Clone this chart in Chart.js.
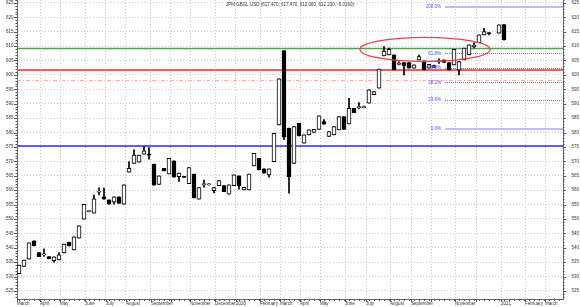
<!DOCTYPE html>
<html lang="en">
<head>
<meta charset="utf-8">
<title>JPM GBGL USD</title>
<style>
    html, body { margin: 0; padding: 0; background: #ffffff; }
    #chart { display: block; }
</style>
</head>
<body>
<canvas id="chart" width="580" height="307"></canvas>
<script src="https://cdn.jsdelivr.net/npm/chart.js@4/dist/chart.umd.min.js"></script>
<script>
// Weekly bars, week 0 = first week of March 2019 (week 95 has no bar)
const weeks = [
    0, 1, 2, 3, 4, 5, 6, 7, 8, 9, 10, 11, 12, 13, 14, 15, 16, 17, 18, 19,
    20, 21, 22, 23, 24, 25, 26, 27, 28, 29, 30, 31, 32, 33, 34, 35, 36, 37, 38, 39,
    40, 41, 42, 43, 44, 45, 46, 47, 48, 49, 50, 51, 52, 53, 54, 55, 56, 57, 58, 59,
    60, 61, 62, 63, 64, 65, 66, 67, 68, 69, 70, 71, 72, 73, 74, 75, 76, 77, 78, 79,
    80, 81, 82, 83, 84, 85, 86, 87, 88, 89, 90, 91, 92, 93, 94, 96, 97
];
const opens = [
    531, 533.5, 536, 542.4, 538.3, 537.5, 536.9, 535.5, 535.8, 538.2,
    542, 539.2, 543.3, 549.9, 552.5, 552, 559.3, 557.7, 556.6, 555.8,
    557.7, 555.1, 566.2, 569.3, 569.7, 572.5, 572.5, 569, 562, 567.6,
    565.6, 570.2, 564.7, 564.8, 562.2, 565.6, 556.9, 561.9, 561.8, 559.8,
    561.5, 561.6, 558.6, 561.5, 565, 560.1, 560.1, 568.4, 571, 567.4,
    565.3, 569.9, 582.6, 608.4, 581.5, 569.3, 583.2, 576.3, 579.2, 580,
    581.1, 583.8, 578.6, 579.2, 580.9, 585.5, 583, 588.4, 588.6, 588.6,
    590.2, 593.1, 595.4, 606.6, 606.9, 607, 603.6, 604.3, 604.3, 602.3,
    605.2, 604.9, 602.3, 602.6, 604.6, 605.2, 604.3, 603.5, 601.7, 605.2,
    606.9, 609.8, 611.2, 613.9, 614.7, 614.5, 617.47
];
const highs = [
    534, 535.7, 541.7, 542.4, 538.3, 539.6, 536.9, 536.8, 538.3, 541.3,
    542, 543.8, 547.6, 555.1, 552.9, 558.3, 560.8, 560.7, 556.6, 557.7,
    557.7, 561.8, 569.9, 574, 572.2, 575.1, 574.8, 569, 565, 567.6,
    571, 570.2, 565.9, 564.8, 567.8, 565.6, 560.9, 563.5, 562.3, 560.9,
    563.3, 561.6, 561.8, 565.3, 565, 561, 565.6, 572.8, 571, 567.4,
    567.4, 579.7, 598.6, 608.4, 581.5, 582.1, 583.2, 579.2, 580.9, 581.1,
    585.8, 584.5, 580.3, 582.1, 585.5, 585.5, 591.9, 588.4, 590.4, 589.2,
    594.8, 594.2, 602, 609.8, 609.3, 607, 604.5, 604.3, 604.3, 603.5,
    606.9, 604.9, 603.7, 603.4, 605.6, 605.2, 604.3, 608.9, 604.6, 609.3,
    610.4, 611.1, 613.9, 616.2, 614.7, 617.4, 617.47
];
const lows = [
    531, 533.5, 536, 540.6, 536.9, 537, 536.1, 535, 535.8, 538.2,
    540.6, 539.2, 543.3, 549.9, 552.4, 552, 558.3, 556.9, 555.1, 555.1,
    555.4, 555.1, 566.2, 569.3, 569.7, 572.5, 570.7, 561.7, 562, 566.7,
    565.6, 564.5, 563, 564.4, 562.2, 557.3, 556.9, 561, 561.7, 559,
    561.5, 559.5, 558.6, 561.5, 560.3, 560.1, 560.1, 568.4, 567, 565.9,
    564.5, 569.9, 582.6, 577.5, 558.9, 569.3, 578.8, 576.3, 579.2, 580,
    581.1, 582.9, 578.6, 579.2, 580.9, 581.1, 583, 586.9, 588.3, 588.5,
    590.2, 593.1, 595.4, 606.6, 606.9, 601.7, 603.5, 600, 602.3, 602.3,
    605.2, 601.7, 602.3, 602.6, 604, 604.3, 601.7, 603.5, 600, 605.2,
    606.9, 609.4, 611.2, 613.9, 613.9, 614.5, 612.06
];
const closes = [
    534, 535.7, 541.7, 540.6, 536.9, 537.9, 536.1, 536.8, 537.5, 541.3,
    540.6, 543.8, 547.6, 555.1, 552.9, 557, 559.6, 556.9, 555.1, 557.7,
    555.4, 561.8, 567.6, 572.2, 572.2, 573.6, 572.1, 561.7, 565, 566.7,
    571, 564.5, 565.9, 564.4, 567.8, 557.3, 560.9, 562.3, 562.2, 560.9,
    563.3, 559.5, 561.8, 565.3, 561.5, 561, 565.6, 572.8, 567, 565.9,
    567.4, 579.7, 598.6, 578.4, 564.7, 582.1, 578.8, 579.2, 580.9, 581.1,
    585.8, 582.9, 580.3, 582.1, 585.5, 581.1, 588.4, 586.9, 589, 589,
    594.8, 594.2, 602, 608.3, 608.9, 601.7, 604, 603.1, 602.3, 603.5,
    606.4, 601.7, 603.7, 603.2, 605, 604.3, 601.7, 608.9, 604.6, 609.3,
    610.4, 610.3, 613.9, 615, 614.3, 617.4, 612.23
];

// Axes
const tickWeeks = [-0.4, 4.2, 8.2, 13.2, 17.4, 21.4, 26.4, 30.4, 34.2, 39.2, 43.4, 48.2, 52.2, 56.2, 60.2, 65.2, 69.4, 74.2, 78.4, 82.4, 87.2, 91.4, 96.4, 101.2, 105.2];
const tickLabels = ["March", "April", "May", "June", "July", "August", "September", "", "November", "December", "2020", "February", "March", "April", "May", "June", "July", "August", "September", "", "November", "", "2021", "February", "March"];
const priceTicks = [525, 530, 535, 540, 545, 550, 555, 560, 565, 570, 575, 580, 585, 590, 595, 600, 605, 610, 615, 620, 625];

// Drawn levels and studies
const levelPrices = [609.3, 601.6, 598.3, 575.35];
const fibLow = 581.2;
const fibHigh = 623.7;
const fibRatios = [0, 23.6, 38.2, 50, 61.8, 100];
const fibStartWeek = 85.2;
const ellipseWeek = 81.2;
const ellipsePrice = 608.85;
const ellipseHalfWeeks = 13;
const ellipseHalfPrice = 4.2;

const titleText = "JPM GBGL USD (617.470, 617.470, 612.060, 612.230, -5.0160)";

const fontFamily = "'Liberation Sans', Arial, sans-serif";
const smallFont = { family: fontFamily, size: 4.5 };

const levelStyles = [
    { color: "#5a9e5a", width: 1.5, dash: [] },
    { color: "#ff5a5a", width: 2, dash: [] },
    { color: "#ffaaaa", width: 1, dash: [4, 2, 1, 2] },
    { color: "#5c5cff", width: 2, dash: [] }
];

const bodies = weeks.map((w, i) => ({ x: w, y: [Math.min(opens[i], closes[i]), Math.max(opens[i], closes[i])] }));
const wicks = weeks.map((w, i) => ({ x: w, y: [lows[i], highs[i]] }));
const bodyColors = weeks.map((w, i) => (closes[i] >= opens[i] ? "#ffffff" : "#000000"));

const overlays = {
    id: "overlays",
    beforeDatasetsDraw(chart) {
        const { ctx, chartArea: area, scales: { x, y } } = chart;
        ctx.save();
        ctx.beginPath();
        ctx.rect(area.left, area.top, area.right - area.left, area.bottom - area.top);
        ctx.clip();

        levelPrices.forEach((price, i) => {
            const style = levelStyles[i];
            const py = Math.round(y.getPixelForValue(price)) + (style.width === 2 ? 0 : 0.5);
            ctx.strokeStyle = style.color;
            ctx.lineWidth = style.width;
            ctx.setLineDash(style.dash);
            ctx.beginPath();
            ctx.moveTo(area.left, py);
            ctx.lineTo(area.right, py);
            ctx.stroke();
        });

        const fibX = x.getPixelForValue(fibStartWeek);
        fibRatios.forEach((ratio) => {
            const price = fibLow + (fibHigh - fibLow) * ratio / 100;
            const edge = ratio === 0 || ratio === 100;
            ctx.strokeStyle = edge ? "#bcbcff" : "#7272ff";
            ctx.lineWidth = edge ? 2 : 1;
            ctx.setLineDash(edge ? [] : [1, 1]);
            const py = Math.round(y.getPixelForValue(price)) + (edge ? 0 : 0.5);
            ctx.beginPath();
            ctx.moveTo(fibX, py);
            ctx.lineTo(area.right, py);
            ctx.stroke();
        });
        ctx.restore();
    },
    afterDatasetsDraw(chart) {
        const { ctx, chartArea: area, scales: { x, y } } = chart;
        ctx.save();

        // ellipse around the consolidation
        const cx = x.getPixelForValue(ellipseWeek);
        const cy = y.getPixelForValue(ellipsePrice);
        const rx = Math.abs(x.getPixelForValue(ellipseWeek + ellipseHalfWeeks) - cx);
        const ry = Math.abs(y.getPixelForValue(ellipsePrice + ellipseHalfPrice) - cy);
        ctx.strokeStyle = "#e84444";
        ctx.lineWidth = 1.3;
        ctx.beginPath();
        ctx.ellipse(cx, cy, rx, ry, 0, 0, Math.PI * 2);
        ctx.stroke();

        // fibonacci labels
        ctx.font = "4.5px " + fontFamily;
        ctx.fillStyle = "#4b4bff";
        ctx.textAlign = "right";
        ctx.textBaseline = "middle";
        const fibX = x.getPixelForValue(fibStartWeek);
        fibRatios.forEach((ratio) => {
            const price = fibLow + (fibHigh - fibLow) * ratio / 100;
            ctx.fillText(ratio.toFixed(1) + "%", fibX - 4, y.getPixelForValue(price));
        });

        // title
        ctx.fillStyle = "#333333";
        ctx.textAlign = "center";
        ctx.fillText(titleText, (area.left + area.right) / 2, 4.5);

        // small tick marks on the axes
        ctx.strokeStyle = "#555555";
        ctx.lineWidth = 1;
        ctx.beginPath();
        for (let v = Math.ceil(y.min); v <= y.max; v++) {
            const py = Math.round(y.getPixelForValue(v)) + 0.5;
            const len = v % 5 === 0 ? 3 : 1.5;
            ctx.moveTo(area.left - len, py);
            ctx.lineTo(area.left, py);
            ctx.moveTo(area.right, py);
            ctx.lineTo(area.right + len, py);
        }
        for (let w = 0; w <= x.max; w++) {
            const px = Math.round(x.getPixelForValue(w)) + 0.5;
            ctx.moveTo(px, area.bottom);
            ctx.lineTo(px, area.bottom + 2);
        }
        tickWeeks.forEach((w) => {
            const px = Math.round(x.getPixelForValue(w)) + 0.5;
            ctx.moveTo(px, area.bottom);
            ctx.lineTo(px, area.bottom + 3);
        });
        ctx.stroke();
        ctx.restore();
    }
};

const ctx = document.getElementById("chart");
const chart = new Chart(ctx, {
    type: "bar",
    data: {
        datasets: [
            {
                label: "Body",
                data: bodies,
                backgroundColor: bodyColors,
                borderColor: "#000000",
                borderWidth: 1,
                borderSkipped: false,
                barThickness: 4,
                grouped: false
            },
            {
                label: "Wick",
                data: wicks,
                backgroundColor: "#000000",
                borderWidth: 0,
                barThickness: 1,
                grouped: false
            }
        ]
    },
    options: {
        responsive: false,
        animation: false,
        events: [],
        layout: { padding: 0 },
        plugins: {
            legend: { display: false },
            tooltip: { enabled: false }
        },
        scales: {
            x: {
                type: "linear",
                min: -0.4,
                max: 108.8,
                offset: false,
                afterBuildTicks: (scale) => {
                    scale.ticks = tickWeeks.map((value) => ({ value }));
                },
                afterFit: (scale) => {
                    scale.height = 8;
                    scale.paddingLeft = 0;
                    scale.paddingRight = 0;
                },
                grid: { color: "#c8c8c8", drawTicks: false, offset: false },
                border: { display: true, color: "#666666", width: 1, dash: [1, 2] },
                ticks: {
                    font: smallFont,
                    color: "#333333",
                    align: "start",
                    padding: 2.5,
                    autoSkip: false,
                    maxRotation: 0,
                    minRotation: 0,
                    callback: (value, index) => tickLabels[index]
                }
            },
            y: {
                type: "linear",
                position: "left",
                min: 522.2,
                max: 626,
                afterBuildTicks: (scale) => {
                    scale.ticks = priceTicks.map((value) => ({ value }));
                },
                afterFit: (scale) => {
                    scale.width = 17;
                    scale.paddingTop = 0;
                    scale.paddingBottom = 0;
                },
                grid: { color: "#c8c8c8", drawTicks: false },
                border: { display: true, color: "#666666", width: 1, dash: [1, 2] },
                ticks: { font: smallFont, color: "#333333", padding: 3.5 }
            },
            y2: {
                type: "linear",
                position: "right",
                min: 522.2,
                max: 626,
                afterBuildTicks: (scale) => {
                    scale.ticks = priceTicks.map((value) => ({ value }));
                },
                afterFit: (scale) => {
                    scale.width = 17;
                    scale.paddingTop = 0;
                    scale.paddingBottom = 0;
                },
                grid: { drawOnChartArea: false, drawTicks: false },
                border: { display: true, color: "#666666", width: 1 },
                ticks: { font: smallFont, color: "#333333", padding: 8.5 }
            }
        }
    },
    plugins: [overlays]
});
</script>
</body>
</html>
